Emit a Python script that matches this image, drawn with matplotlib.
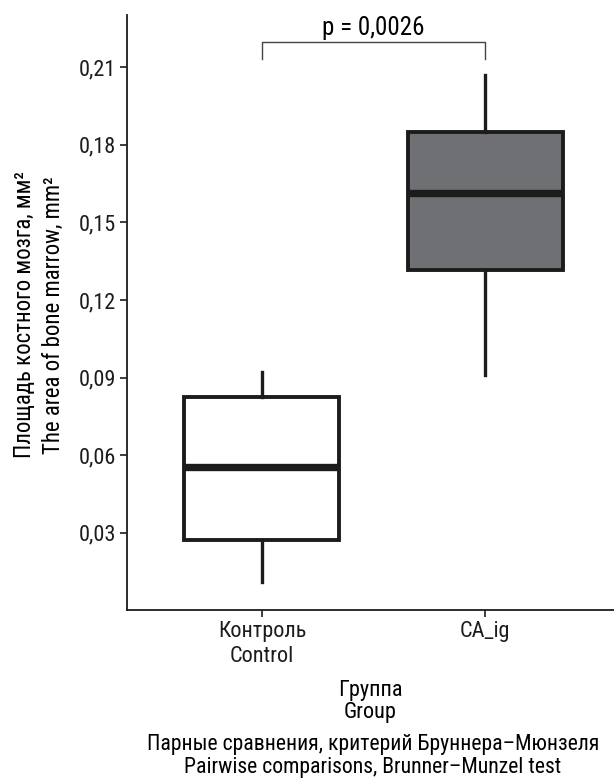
import matplotlib
matplotlib.use("Agg")
import matplotlib.pyplot as plt

plt.rcParams['font.family'] = ['Roboto Condensed', 'Liberation Sans', 'DejaVu Sans']

# group labels and box statistics
groups = ['Контроль\nControl', 'CA_ig']
whisker_low = [0.0111, 0.0910]
q1 = [0.0273, 0.1316]
median = [0.0555, 0.1613]
q3 = [0.0825, 0.1849]
whisker_high = [0.0922, 0.2069]
fills = ['white', '#6f7074']
p_text = 'p = 0,0026'

fig = plt.figure(figsize=(6.14, 7.83), dpi=100)
ax = fig.add_axes([127/614, 1-610/783, 1-127/614, (610-15)/783])

stats = []
for i in range(len(groups)):
    stats.append(dict(whislo=whisker_low[i], q1=q1[i], med=median[i],
                      q3=q3[i], whishi=whisker_high[i], fliers=[]))

bp = ax.bxp(stats, positions=[1, 2], widths=0.695, patch_artist=True,
            showcaps=False,
            boxprops=dict(linewidth=2.8, edgecolor='#1c1c1c'),
            whiskerprops=dict(linewidth=2.4, color='#1c1c1c'),
            medianprops=dict(linewidth=5.3, color='#1c1c1c', solid_capstyle='butt'))
for patch, c in zip(bp['boxes'], fills):
    patch.set_facecolor(c)

ax.set_xlim(0.395, 2.578)
ax.set_ylim(0.0002, 0.2301)
ax.set_yticks([0.03, 0.06, 0.09, 0.12, 0.15, 0.18, 0.21])
ax.set_yticklabels(['0,03', '0,06', '0,09', '0,12', '0,15', '0,18', '0,21'])
ax.set_xticks([1, 2])
ax.set_xticklabels(groups, linespacing=1.22)
ax.tick_params(labelsize=16, length=5, width=1.2, colors='#1c1c1c', pad=3)
for s in ['top', 'right']:
    ax.spines[s].set_visible(False)
for s in ['left', 'bottom']:
    ax.spines[s].set_linewidth(1.3)
    ax.spines[s].set_color('#1c1c1c')

ax.set_ylabel('Площадь костного мозга, мм²\nThe area of bone marrow, mm²',
              fontsize=16.5, linespacing=1.32)
ax.yaxis.set_label_coords(-0.128, 0.496)
ax.set_xlabel('Группа\nGroup', fontsize=16, linespacing=1.08)
ax.xaxis.set_label_coords(0.5, -0.117)

# significance bracket
ax.plot([1, 1, 2, 2], [0.2131, 0.2197, 0.2197, 0.2131], color='#444444', lw=1)
ax.text(1.5, 0.2206, p_text, ha='center', va='bottom', fontsize=18)

fig.text(373/614, 1-756/783,
         'Парные сравнения, критерий Бруннера–Мюнзеля\nPairwise comparisons, Brunner–Munzel test',
         ha='center', va='center', fontsize=15.7, linespacing=1.1)

fig.savefig('out.png', dpi=100)
